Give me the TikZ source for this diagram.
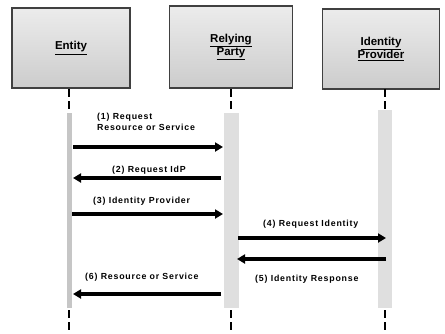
\documentclass[tikz,border=0pt]{standalone}
\usepackage{fontspec}
\setmainfont{Liberation Sans}
\newfontfamily\msgfont[LetterSpace=9]{Liberation Sans}
\usetikzlibrary{arrows.meta}
\tikzset{
  party/.style={draw=black!75, line width=1.2pt, top color=gray!15, bottom color=gray!40,
    minimum height=80pt, align=center, font=\fontsize{11.5}{13.5}\selectfont\bfseries},
  lifeline/.style={line width=2.8pt, dash pattern=on 8pt off 4pt},
  actbar/.style={fill=gray!25, draw=none},
  msg/.style={line width=3.2pt, -{Triangle[length=8pt,width=9pt]}},
  msgtext/.style={font=\msgfont\fontsize{8.8}{11.5}\selectfont\bfseries, align=left, inner sep=0pt, anchor=west}
}
\begin{document}
\begin{tikzpicture}[x=1pt, y=-1pt]
      \useasboundingbox (0,0) rectangle (445,333);
      % Parties
      \node[party, minimum width=118pt] (entity) at (71,48) {\underline{Entity}};
      \node[party, minimum width=123pt, minimum height=82pt] (rp) at (231,47) {\underline{Relying}\\\underline{Party}};
      \node[party, minimum width=117pt] (idp) at (381,49) {\underline{Identity}\\\underline{Provider}};
      % Lifelines, upper and lower parts
      \draw[lifeline] (69,89) -- (69,113);
      \draw[lifeline] (231,89) -- (231,113);
      \draw[lifeline] (385,89) -- (385,113);
      \draw[lifeline] (69,310) -- (69,333);
      \draw[lifeline] (231,310) -- (231,333);
      \draw[lifeline] (385,310) -- (385,333);
      % Activation bars
      \fill[actbar, fill=gray!45] (66.5,113) rectangle (71.5,308);
      \fill[actbar] (224,113) rectangle (239,308);
      \fill[actbar] (378,110) rectangle (392,308);
      % Ends of the messages
      \coordinate (e1) at (73,147);  \coordinate (r1) at (223,147);
      \coordinate (e2) at (73,178);  \coordinate (r2) at (221,178);
      \coordinate (e3) at (72,214);  \coordinate (r3) at (223,214);
      \coordinate (r4) at (238,238); \coordinate (i4) at (386,238);
      \coordinate (r5) at (237,259); \coordinate (i5) at (386,259);
      \coordinate (e6) at (73,294);  \coordinate (r6) at (221,294);
      % Messages
      \draw[msg] (e1) -- (r1);
      \node[msgtext] (t1) at (97,122) {(1) Request\\Resource or Service};
      \draw[msg] (r2) -- (e2);
      \node[msgtext] (t2) at (112,170) {(2) Request IdP};
      \draw[msg] (e3) -- (r3);
      \node[msgtext] (t3) at (93,201) {(3) Identity Provider};
      \draw[msg] (r4) -- (i4);
      \node[msgtext] (t4) at (263,224) {(4) Request Identity};
      \draw[msg] (i5) -- (r5);
      \node[msgtext] (t5) at (255,279) {(5) Identity Response};
      \draw[msg] (r6) -- (e6);
      \node[msgtext] (t6) at (85,277) {(6) Resource or Service};
\end{tikzpicture}
\end{document}
